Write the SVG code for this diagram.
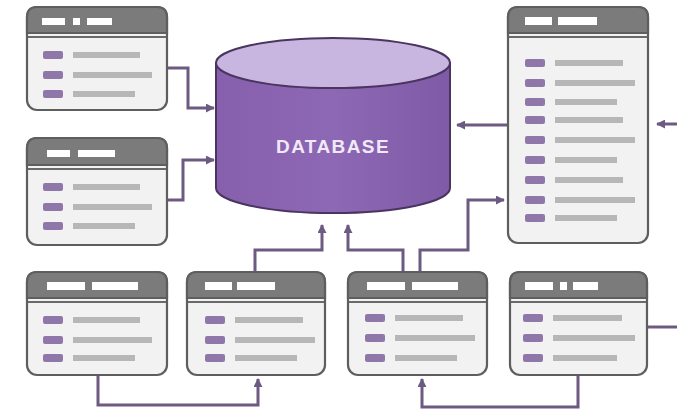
<svg xmlns="http://www.w3.org/2000/svg" width="677" height="412" viewBox="0 0 677 412">
<defs>
<style>
.win{fill:#f2f2f2;stroke:#5e5e5e;stroke-width:2.2}
.hdr{fill:#7b7b7b;stroke:#5e5e5e;stroke-width:2.2}
.sep{stroke:#6a6a6a;stroke-width:1.8}
.hw{fill:#ffffff}
.pill{fill:#8f78a9}
.bar{fill:#b7b7b7}
.con{fill:none;stroke:#6d5a82;stroke-width:3;stroke-linejoin:miter}
.lbl{font-family:"Liberation Sans",Arial,sans-serif;font-size:19px;font-weight:bold;letter-spacing:1.4px;fill:#f1e9f8}
</style>
<marker id="ah" viewBox="0 0 10 10" refX="9" refY="5" markerWidth="9" markerHeight="9" markerUnits="userSpaceOnUse" orient="auto">
<path d="M0,0 L10,5 L0,10 Z" fill="#6d5a82"/>
</marker>
<linearGradient id="dbg" x1="0" y1="0" x2="1" y2="0">
<stop offset="0" stop-color="#8760ad"/>
<stop offset="0.5" stop-color="#8d68b4"/>
<stop offset="1" stop-color="#7f5aa6"/>
</linearGradient>
</defs>

<g id="connectors">
<polyline class="con" points="167,68 188,68 188,108 214,108" marker-end="url(#ah)"/>
<polyline class="con" points="167,200 183,200 183,160 214,160" marker-end="url(#ah)"/>
<polyline class="con" points="508,125 457,125" marker-end="url(#ah)"/>
<polyline class="con" points="677,124 657,124" marker-end="url(#ah)"/>
<polyline class="con" points="255,272 255,250 322,250 322,225" marker-end="url(#ah)"/>
<polyline class="con" points="403,272 403,250 348,250 348,225" marker-end="url(#ah)"/>
<polyline class="con" points="420,272 420,250 468,250 468,200 504,200" marker-end="url(#ah)"/>
<polyline class="con" points="98,375 98,405 258,405 258,379" marker-end="url(#ah)"/>
<polyline class="con" points="578,375 578,407 422,407 422,379" marker-end="url(#ah)"/>
<polyline class="con" points="647,327 677,327"/>
</g>

<g id="database">
<path d="M216,63 L216,188 A117,25 0 0 0 450,188 L450,63 Z" fill="url(#dbg)" stroke="#4a3560" stroke-width="2"/>
<ellipse cx="333" cy="63" rx="117" ry="25" fill="#c8b5e0" stroke="#4a3560" stroke-width="2"/>
<text class="lbl" x="333" y="153" text-anchor="middle">DATABASE</text>
</g>

<g id="win-top-left">
<rect class="win" x="27" y="7" width="140" height="103" rx="10"/>
<path class="hdr" d="M27,33 L27,17 Q27,7 37,7 L157,7 Q167,7 167,17 L167,33 Z"/>
<line class="sep" x1="28" y1="37" x2="166" y2="37"/>
<rect class="hw" x="42" y="18" width="23" height="7"/>
<rect class="hw" x="73" y="18" width="7" height="7"/>
<rect class="hw" x="87" y="18" width="25" height="7"/>
<rect class="pill" x="43" y="51" width="20" height="8" rx="2"/>
<rect class="bar" x="73" y="52" width="67" height="6"/>
<rect class="pill" x="43" y="71" width="20" height="8" rx="2"/>
<rect class="bar" x="73" y="72" width="79" height="6"/>
<rect class="pill" x="43" y="90" width="20" height="8" rx="2"/>
<rect class="bar" x="73" y="91" width="62" height="6"/>
</g>

<g id="win-mid-left">
<rect class="win" x="27" y="138" width="140" height="107" rx="10"/>
<path class="hdr" d="M27,165 L27,148 Q27,138 37,138 L157,138 Q167,138 167,148 L167,165 Z"/>
<line class="sep" x1="28" y1="169" x2="166" y2="169"/>
<rect class="hw" x="47" y="150" width="23" height="7"/>
<rect class="hw" x="78" y="150" width="37" height="7"/>
<rect class="pill" x="43" y="183" width="20" height="8" rx="2"/>
<rect class="bar" x="73" y="184" width="67" height="6"/>
<rect class="pill" x="43" y="203" width="20" height="8" rx="2"/>
<rect class="bar" x="73" y="204" width="79" height="6"/>
<rect class="pill" x="43" y="222" width="20" height="8" rx="2"/>
<rect class="bar" x="73" y="223" width="62" height="6"/>
</g>

<g id="win-right">
<rect class="win" x="508" y="7" width="140" height="236" rx="10"/>
<path class="hdr" d="M508,33 L508,17 Q508,7 518,7 L638,7 Q648,7 648,17 L648,33 Z"/>
<line class="sep" x1="509" y1="37" x2="647" y2="37"/>
<rect class="hw" x="525" y="17" width="27" height="8"/>
<rect class="hw" x="558" y="17" width="39" height="8"/>
<rect class="pill" x="525" y="59" width="20" height="8" rx="2"/>
<rect class="bar" x="555" y="60" width="68" height="6"/>
<rect class="pill" x="525" y="79" width="20" height="8" rx="2"/>
<rect class="bar" x="555" y="80" width="80" height="6"/>
<rect class="pill" x="525" y="98" width="20" height="8" rx="2"/>
<rect class="bar" x="555" y="99" width="62" height="6"/>
<rect class="pill" x="525" y="116" width="20" height="8" rx="2"/>
<rect class="bar" x="555" y="117" width="68" height="6"/>
<rect class="pill" x="525" y="136" width="20" height="8" rx="2"/>
<rect class="bar" x="555" y="137" width="80" height="6"/>
<rect class="pill" x="525" y="156" width="20" height="8" rx="2"/>
<rect class="bar" x="555" y="157" width="62" height="6"/>
<rect class="pill" x="525" y="176" width="20" height="8" rx="2"/>
<rect class="bar" x="555" y="177" width="68" height="6"/>
<rect class="pill" x="525" y="196" width="20" height="8" rx="2"/>
<rect class="bar" x="555" y="197" width="80" height="6"/>
<rect class="pill" x="525" y="214" width="20" height="8" rx="2"/>
<rect class="bar" x="555" y="215" width="62" height="6"/>
</g>

<g id="win-bottom-1">
<rect class="win" x="27" y="272" width="140" height="103" rx="10"/>
<path class="hdr" d="M27,298 L27,282 Q27,272 37,272 L157,272 Q167,272 167,282 L167,298 Z"/>
<line class="sep" x1="28" y1="302" x2="166" y2="302"/>
<rect class="hw" x="47" y="282" width="38" height="8"/>
<rect class="hw" x="92" y="282" width="46" height="8"/>
<rect class="pill" x="43" y="316" width="20" height="8" rx="2"/>
<rect class="bar" x="73" y="317" width="67" height="6"/>
<rect class="pill" x="43" y="336" width="20" height="8" rx="2"/>
<rect class="bar" x="73" y="337" width="79" height="6"/>
<rect class="pill" x="43" y="354" width="20" height="8" rx="2"/>
<rect class="bar" x="73" y="355" width="62" height="6"/>
</g>

<g id="win-bottom-2">
<rect class="win" x="187" y="272" width="138" height="103" rx="10"/>
<path class="hdr" d="M187,298 L187,282 Q187,272 197,272 L315,272 Q325,272 325,282 L325,298 Z"/>
<line class="sep" x1="188" y1="302" x2="324" y2="302"/>
<rect class="hw" x="205" y="282" width="27" height="8"/>
<rect class="hw" x="237" y="282" width="38" height="8"/>
<rect class="pill" x="205" y="316" width="20" height="8" rx="2"/>
<rect class="bar" x="235" y="317" width="68" height="6"/>
<rect class="pill" x="205" y="336" width="20" height="8" rx="2"/>
<rect class="bar" x="235" y="337" width="80" height="6"/>
<rect class="pill" x="205" y="354" width="20" height="8" rx="2"/>
<rect class="bar" x="235" y="355" width="62" height="6"/>
</g>

<g id="win-bottom-3">
<rect class="win" x="348" y="272" width="139" height="103" rx="10"/>
<path class="hdr" d="M348,298 L348,282 Q348,272 358,272 L477,272 Q487,272 487,282 L487,298 Z"/>
<line class="sep" x1="349" y1="302" x2="486" y2="302"/>
<rect class="hw" x="367" y="282" width="38" height="8"/>
<rect class="hw" x="412" y="282" width="46" height="8"/>
<rect class="pill" x="365" y="314" width="20" height="8" rx="2"/>
<rect class="bar" x="395" y="315" width="68" height="6"/>
<rect class="pill" x="365" y="334" width="20" height="8" rx="2"/>
<rect class="bar" x="395" y="335" width="80" height="6"/>
<rect class="pill" x="365" y="354" width="20" height="8" rx="2"/>
<rect class="bar" x="395" y="355" width="62" height="6"/>
</g>

<g id="win-bottom-4">
<rect class="win" x="510" y="272" width="137" height="103" rx="10"/>
<path class="hdr" d="M510,298 L510,282 Q510,272 520,272 L637,272 Q647,272 647,282 L647,298 Z"/>
<line class="sep" x1="511" y1="302" x2="646" y2="302"/>
<rect class="hw" x="525" y="282" width="28" height="8"/>
<rect class="hw" x="560" y="282" width="7" height="8"/>
<rect class="hw" x="573" y="282" width="25" height="8"/>
<rect class="pill" x="523" y="314" width="20" height="8" rx="2"/>
<rect class="bar" x="553" y="315" width="69" height="6"/>
<rect class="pill" x="523" y="334" width="20" height="8" rx="2"/>
<rect class="bar" x="553" y="335" width="82" height="6"/>
<rect class="pill" x="523" y="354" width="20" height="8" rx="2"/>
<rect class="bar" x="553" y="355" width="64" height="6"/>
</g>
</svg>
